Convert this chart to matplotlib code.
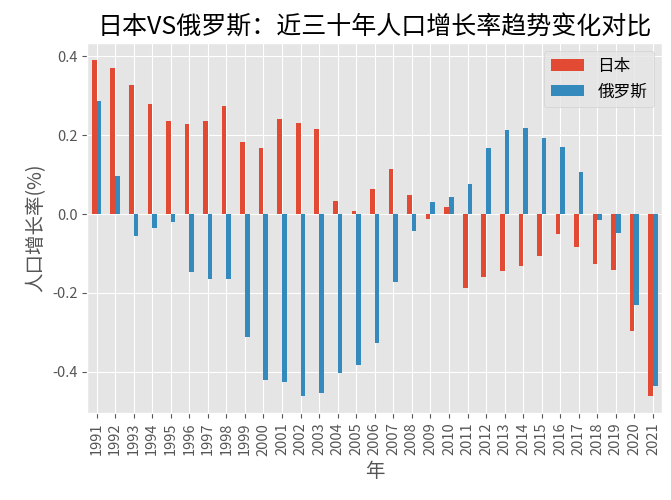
import numpy as np
import pandas as pd
import matplotlib
matplotlib.use("Agg")
import matplotlib.pyplot as plt

plt.style.use("ggplot")
plt.rcParams['font.family'] = ['Noto Sans CJK SC', 'DejaVu Sans']
plt.rcParams['axes.unicode_minus'] = False

years = list(range(1991, 2022))
japan = [0.391, 0.371, 0.326, 0.280, 0.235, 0.227, 0.237, 0.273, 0.182, 0.167,
         0.240, 0.232, 0.215, 0.033, 0.008, 0.063, 0.114, 0.048, -0.012, 0.018,
         -0.187, -0.160, -0.145, -0.133, -0.107, -0.050, -0.083, -0.128, -0.142, -0.296,
         -0.462]
russia = [0.287, 0.097, -0.055, -0.035, -0.021, -0.146, -0.166, -0.166, -0.311, -0.422,
          -0.425, -0.462, -0.455, -0.404, -0.382, -0.328, -0.172, -0.044, 0.030, 0.044,
          0.077, 0.168, 0.213, 0.218, 0.192, 0.169, 0.106, -0.014, -0.049, -0.232,
          -0.437]

df = pd.DataFrame({'日本': japan, '俄罗斯': russia}, index=years)

fig, ax = plt.subplots(figsize=(6.71, 5.0), dpi=100)
df.plot.bar(ax=ax)
ax.set_title('日本VS俄罗斯：近三十年人口增长率趋势变化对比', fontsize=18, color='black')
ax.set_xlabel('年', fontsize=14)
ax.set_ylabel('人口增长率(%)', fontsize=14)
ax.tick_params(axis='x', labelrotation=90, labelsize=10.5)
ax.tick_params(axis='y', labelsize=10.5)
ax.legend(loc='upper right', fontsize=12)
plt.subplots_adjust(left=0.13, right=0.987, top=0.914, bottom=0.174)
plt.savefig('out.png')
